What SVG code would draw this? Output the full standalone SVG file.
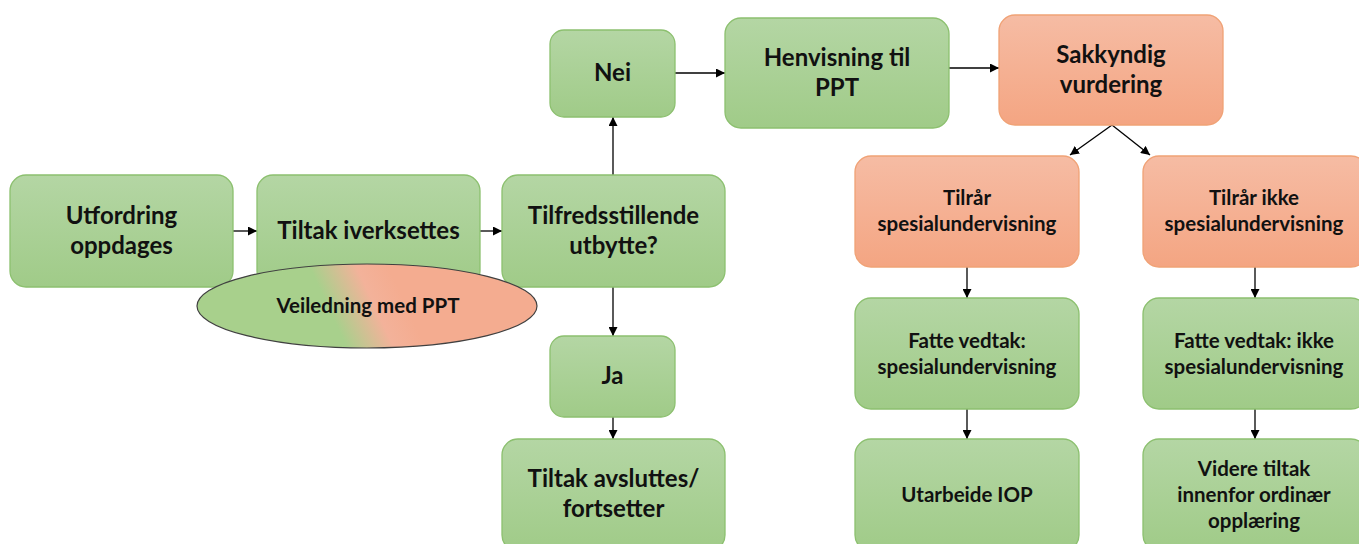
<svg xmlns="http://www.w3.org/2000/svg" width="1359" height="544" viewBox="0 0 1359 544">
<defs>
<linearGradient id="gG" x1="0" y1="0" x2="0" y2="1">
<stop offset="0" stop-color="#b4d6a4"/>
<stop offset="1" stop-color="#a0cb88"/>
</linearGradient>
<linearGradient id="gO" x1="0" y1="0" x2="0" y2="1">
<stop offset="0" stop-color="#f6bca4"/>
<stop offset="1" stop-color="#f4a582"/>
</linearGradient>
<linearGradient id="gE" gradientUnits="userSpaceOnUse" x1="335" y1="322" x2="400" y2="292">
<stop offset="0" stop-color="#a8d08c"/>
<stop offset="0.6" stop-color="#f3b29a"/>
<stop offset="1" stop-color="#f4ac90"/>
</linearGradient>
<marker id="ah" viewBox="0 0 10 10" refX="10" refY="5" markerWidth="9" markerHeight="9" markerUnits="userSpaceOnUse" orient="auto">
<path d="M0,0 L10,5 L0,10 z" fill="#000"/>
</marker>
<style>
.g{fill:url(#gG);stroke:#8cc06f;stroke-width:1.3}
.o{fill:url(#gO);stroke:#f0a276;stroke-width:1.3}
.t{font-family:Lato,"Open Sans","Liberation Sans",sans-serif;font-weight:bold;fill:#111;text-anchor:middle}
.L{font-size:24px}
.S{font-size:20.5px}
.c{stroke:#000;stroke-width:1.3;fill:none;marker-end:url(#ah)}
</style>
</defs>

<g id="connectors">
<line class="c" x1="233" y1="231" x2="257" y2="231"/>
<line class="c" x1="480" y1="231" x2="502" y2="231"/>
<line class="c" x1="613" y1="175" x2="613" y2="117"/>
<line class="c" x1="613" y1="287" x2="613" y2="336"/>
<line class="c" x1="613" y1="417" x2="613" y2="439"/>
<line class="c" x1="675" y1="73" x2="725" y2="73"/>
<line class="c" x1="949" y1="68" x2="999" y2="68"/>
<line class="c" x1="1112" y1="125" x2="1070" y2="155"/>
<line class="c" x1="1112" y1="125" x2="1150" y2="155"/>
<line class="c" x1="967" y1="267" x2="967" y2="298"/>
<line class="c" x1="967" y1="409" x2="967" y2="439"/>
<line class="c" x1="1255" y1="267" x2="1255" y2="298"/>
<line class="c" x1="1255" y1="409" x2="1255" y2="439"/>
</g>

<g id="n-utfordring">
<rect class="g" x="10" y="175" width="223" height="112" rx="16"/>
<text class="t L" x="121.5" y="224">Utfordring</text>
<text class="t L" x="121.5" y="254">oppdages</text>
</g>
<g id="n-tiltak">
<rect class="g" x="257" y="175" width="223" height="112" rx="16"/>
<text class="t L" x="368.5" y="239">Tiltak iverksettes</text>
</g>
<g id="n-tilfreds">
<rect class="g" x="502" y="175" width="223" height="112" rx="16"/>
<text class="t L" x="613.5" y="224">Tilfredsstillende</text>
<text class="t L" x="613.5" y="254">utbytte?</text>
</g>
<g id="n-veiledning">
<ellipse cx="367" cy="306" rx="170" ry="42" fill="url(#gE)" stroke="#404040" stroke-width="1.2"/>
<text class="t S" x="368" y="313">Veiledning med PPT</text>
</g>
<g id="n-nei">
<rect class="g" x="550" y="30" width="125" height="87" rx="14"/>
<text class="t L" x="612.5" y="81">Nei</text>
</g>
<g id="n-ja">
<rect class="g" x="550" y="336" width="125" height="81" rx="14"/>
<text class="t L" x="612.5" y="384">Ja</text>
</g>
<g id="n-avsluttes">
<rect class="g" x="502" y="439" width="223" height="112" rx="16"/>
<text class="t L" x="613.5" y="487">Tiltak avsluttes/</text>
<text class="t L" x="613.5" y="517">fortsetter</text>
</g>
<g id="n-henvisning">
<rect class="g" x="725" y="18" width="224" height="110" rx="16"/>
<text class="t L" x="837" y="66">Henvisning til</text>
<text class="t L" x="837" y="96">PPT</text>
</g>
<g id="n-sakkyndig">
<rect class="o" x="999" y="15" width="224" height="110" rx="16"/>
<text class="t L" x="1111" y="63">Sakkyndig</text>
<text class="t L" x="1111" y="93">vurdering</text>
</g>
<g id="n-tilraar">
<rect class="o" x="855" y="156" width="224" height="111" rx="16"/>
<text class="t S" x="967" y="205">Tilrår</text>
<text class="t S" x="967" y="231">spesialundervisning</text>
</g>
<g id="n-tilraar-ikke">
<rect class="o" x="1143" y="156" width="224" height="111" rx="16"/>
<text class="t S" x="1254" y="205">Tilrår ikke</text>
<text class="t S" x="1254" y="231">spesialundervisning</text>
</g>
<g id="n-vedtak">
<rect class="g" x="855" y="298" width="224" height="111" rx="16"/>
<text class="t S" x="967" y="348">Fatte vedtak:</text>
<text class="t S" x="967" y="374">spesialundervisning</text>
</g>
<g id="n-vedtak-ikke">
<rect class="g" x="1143" y="298" width="224" height="111" rx="16"/>
<text class="t S" x="1254" y="348">Fatte vedtak: ikke</text>
<text class="t S" x="1254" y="374">spesialundervisning</text>
</g>
<g id="n-iop">
<rect class="g" x="855" y="439" width="224" height="112" rx="16"/>
<text class="t S" x="967" y="502">Utarbeide IOP</text>
</g>
<g id="n-videre">
<rect class="g" x="1143" y="439" width="224" height="112" rx="16"/>
<text class="t S" x="1254" y="476">Videre tiltak</text>
<text class="t S" x="1254" y="502">innenfor ordinær</text>
<text class="t S" x="1254" y="528">opplæring</text>
</g>
</svg>
